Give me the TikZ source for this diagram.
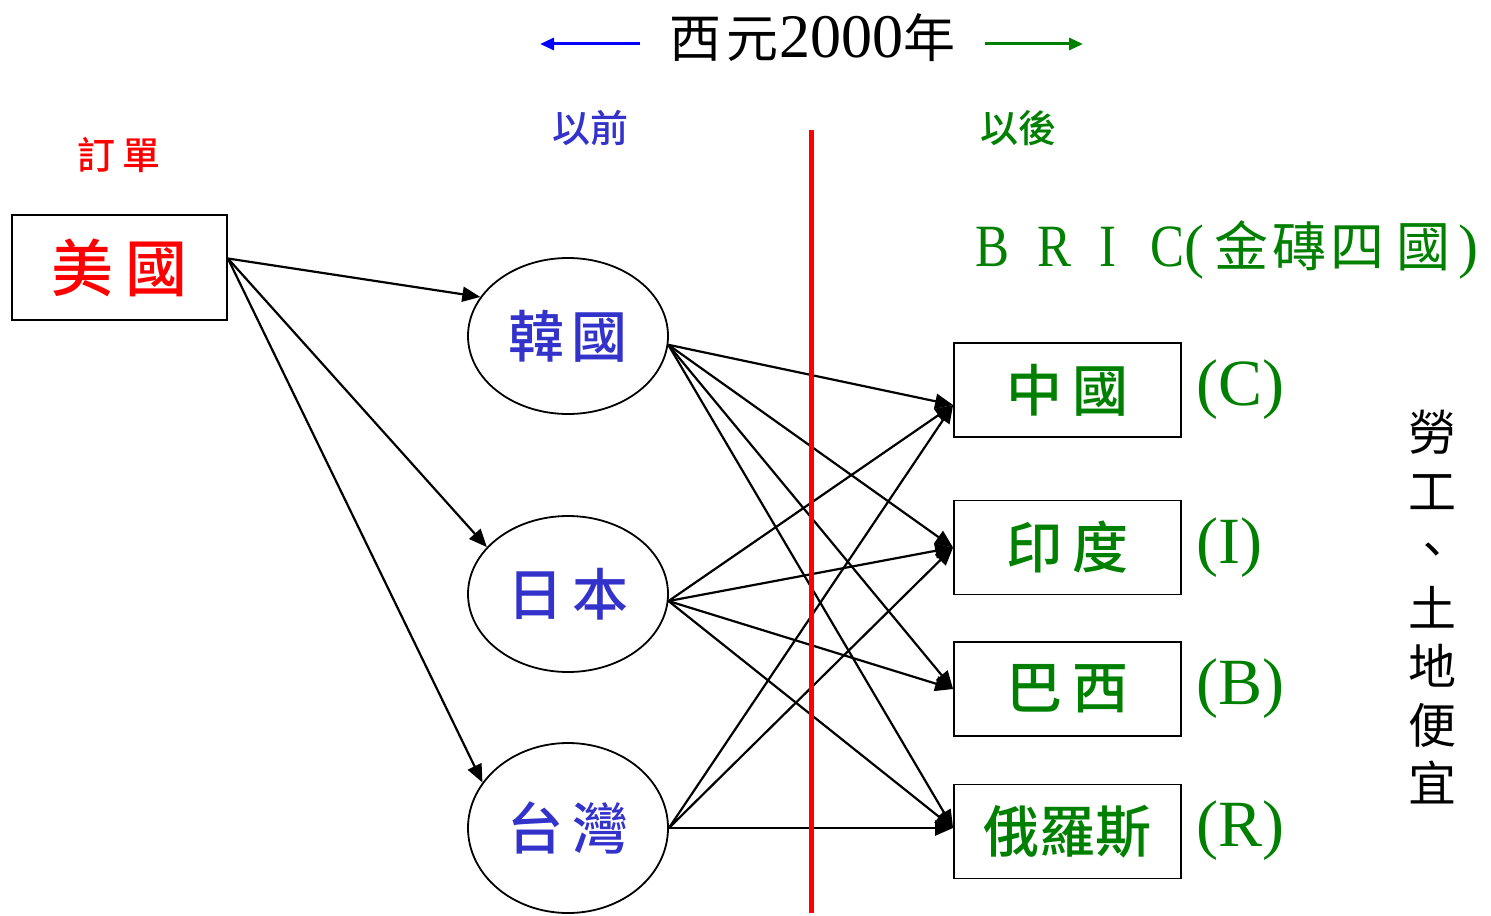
\documentclass[tikz,border=0pt]{standalone}
\usepackage{fontspec}
\setmainfont{Noto Sans CJK TC}[BoldFont={Noto Sans CJK TC Medium}]
\newfontfamily\lat{Liberation Serif}
\usetikzlibrary{arrows.meta,shapes.geometric}
\definecolor{myblue}{RGB}{51,51,204}
\definecolor{mygreen}{RGB}{0,128,0}
\begin{document}
\begin{tikzpicture}[x=0.5pt,y=-0.5pt,
  usabox/.style={draw, line width=0.9pt, minimum width=107.5pt, minimum height=52.5pt, inner sep=0pt, text=red, font=\fontsize{31}{33}\selectfont\bfseries},
  box/.style={draw, line width=0.9pt, minimum width=113.5pt, minimum height=47pt, inner sep=0pt, text=mygreen, font=\fontsize{28}{30}\selectfont\bfseries},
  oval/.style={draw, ellipse, line width=0.9pt, minimum width=100pt, minimum height=78pt, inner sep=0pt, text=myblue, font=\fontsize{28}{30}\selectfont\bfseries},
  arr/.style={-{Triangle[length=9pt,width=7.5pt]}, line width=1.1pt},
  tarr/.style={-{Triangle[length=7pt,width=6pt]}, line width=1.5pt},
  lbl/.style={inner sep=0pt, font=\fontsize{19}{21}\selectfont\bfseries},
  code/.style={anchor=west, inner sep=0pt, text=mygreen, font=\lat\fontsize{33}{35}\selectfont}]
\useasboundingbox (0,0) rectangle (1491,915);

% title
\node[inner sep=0pt, font=\fontsize{26}{28}\selectfont] (title) at (812,38) {西\hspace{3pt}元{\lat\fontsize{31}{33}\selectfont 2000}年};
\coordinate (bl0) at (640,44);
\coordinate (bl1) at (540,44);
\coordinate (gr0) at (985,44);
\coordinate (gr1) at (1083,44);
\draw[tarr, blue] (bl0) -- (bl1);
\draw[tarr, mygreen] (gr0) -- (gr1);

% labels
\node[lbl, text=red] (order) at (119,155) {訂\hspace{4pt}單};
\node[lbl, text=myblue] (before) at (590,128) {以前};
\node[lbl, text=mygreen] (after) at (1018,128) {以後};

% nodes
\node[usabox] (usa) at (119.5,267.5) {美\hspace{6pt}國};
\node[oval] (kor) at (568,336) {韓\hspace{4pt}國};
\node[oval] (jpn) at (568,594) {日\hspace{5pt}本};
\node[oval, minimum height=85pt] (twn) at (568,828) {台\hspace{5pt}灣};

\node[box] (chn) at (1067.5,390) {中\hspace{5pt}國};
\node[box] (ind) at (1067.5,547.5) {印\hspace{5pt}度};
\node[box] (bra) at (1067.5,689) {巴\hspace{5pt}西};
\node[box] (rus) at (1067.5,831.5) {俄羅斯};

\node[code] (cC) at (1196,390) {(C)};
\node[code] (cI) at (1196,548) {(I)};
\node[code] (cB) at (1196,689) {(B)};
\node[code] (cR) at (1196,831) {(R)};

\node[anchor=west, inner sep=0pt, text=mygreen, font=\fontsize{27}{29}\selectfont] (bric) at (975,250)
  {{\lat\fontsize{30}{32}\selectfont\scalebox{0.85}[1]{B}\hspace{14pt}\scalebox{0.85}[1]{R}\hspace{14pt}\scalebox{0.85}[1]{I}\hspace{17pt}\scalebox{0.85}[1]{C}(}\hspace{5pt}金\hspace{2pt}磚\hspace{2pt}四\hspace{6pt}國\hspace{4pt}{\lat\fontsize{30}{32}\selectfont )}};

\node[inner sep=0pt, align=center, font=\fontsize{24}{29.25}\selectfont] (cheap) at (1432,607.5)
  {勞\\工\\、\\土\\地\\便\\宜};

% arrows from USA
\draw[arr] ([yshift=4.5pt]usa.east) -- (kor.156);
\draw[arr] ([yshift=4.5pt]usa.east) -- (jpn.150);
\draw[arr] ([yshift=4.5pt]usa.east) -- (twn.152);

% arrows to BRIC
\draw[arr] (kor.-5) -- ([yshift=-7.5pt]chn.west);
\draw[arr] (kor.-5) -- (ind.west);
\draw[arr] (kor.-5) -- (bra.west);
\draw[arr] (kor.-5) -- ([yshift=1.75pt]rus.west);
\draw[arr] (jpn.-4) -- ([yshift=-7.5pt]chn.west);
\draw[arr] (jpn.-4) -- (ind.west);
\draw[arr] (jpn.-4) -- (bra.west);
\draw[arr] (jpn.-4) -- ([yshift=1.75pt]rus.west);
\draw[arr] (twn.east) -- ([yshift=-7.5pt]chn.west);
\draw[arr] (twn.east) -- (ind.west);
\draw[arr] (twn.east) -- ([yshift=1.75pt]rus.west);

% dividing line
\coordinate (div0) at (811,130);
\coordinate (div1) at (811,913);
\draw[red, line width=2.5pt] (div0) -- (div1);
\end{tikzpicture}
\end{document}
